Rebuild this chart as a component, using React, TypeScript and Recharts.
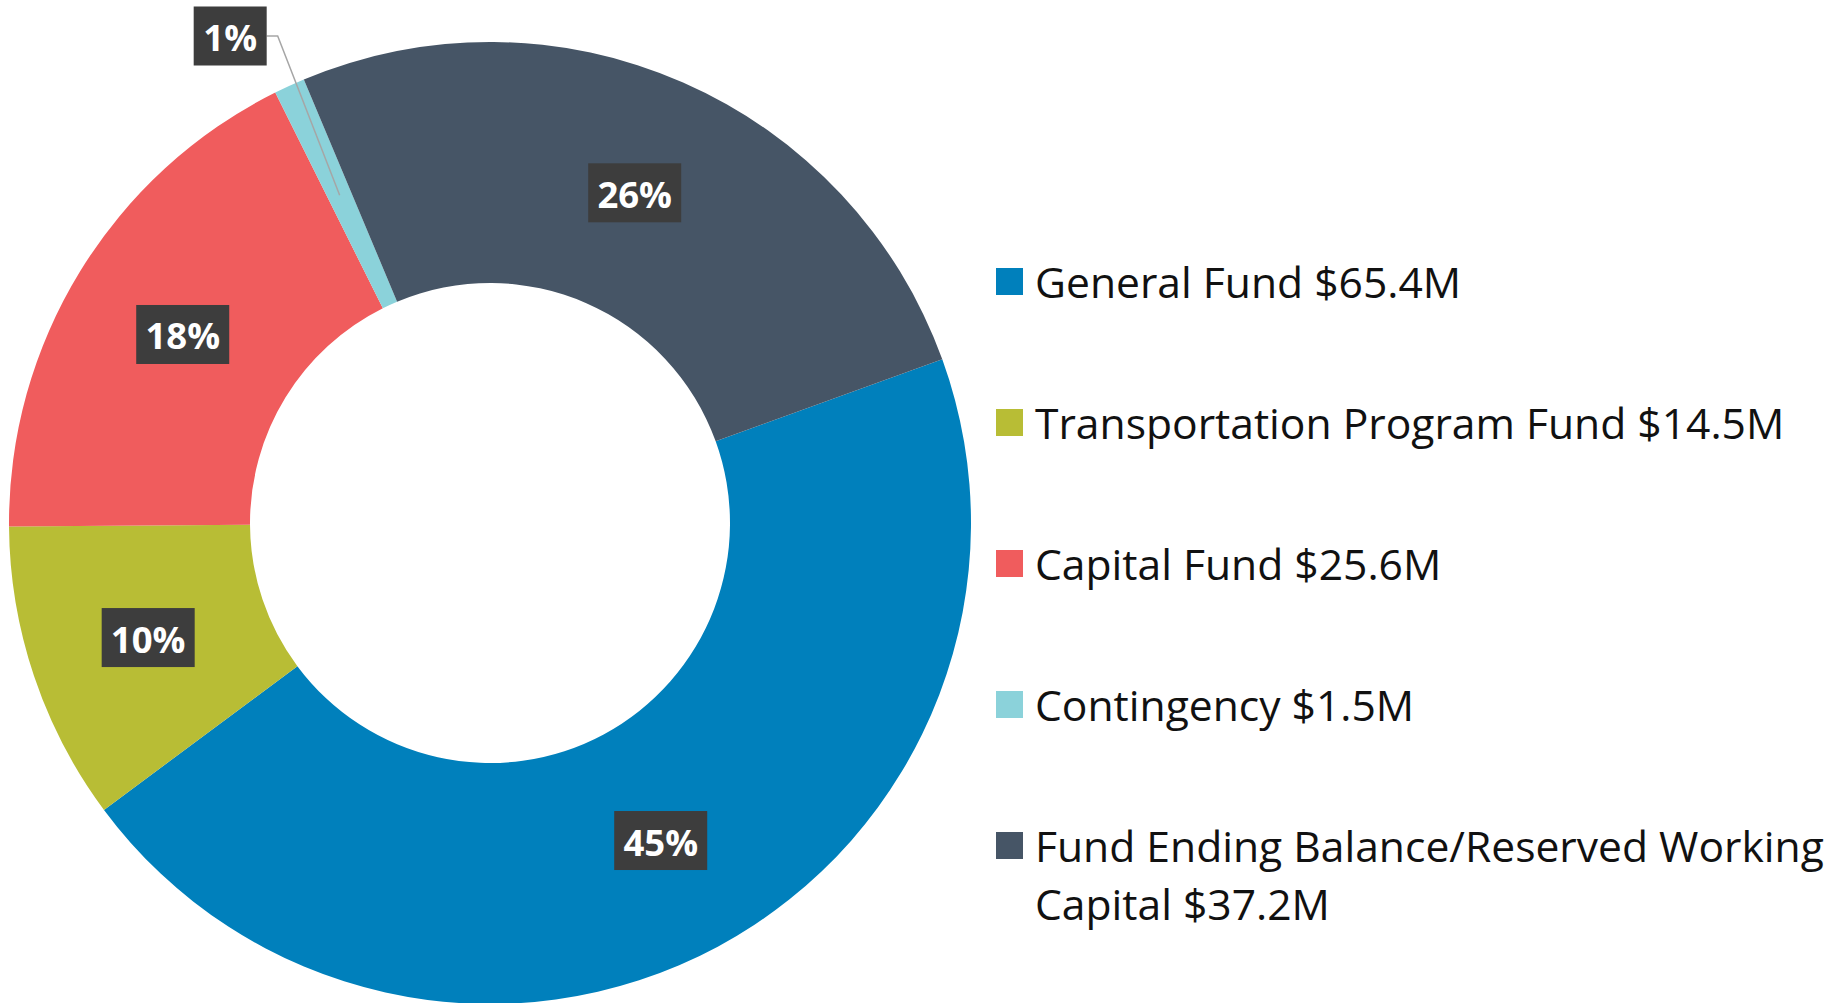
import { PieChart, Pie, Cell, Legend } from "recharts";

const funds = ["General Fund", "Transportation Program Fund", "Capital Fund", "Contingency", "Fund Ending Balance/Reserved Working Capital"];
const amounts = [65.4, 14.5, 25.6, 1.5, 37.2];
const colors = ["#0080bc", "#b8bd35", "#f05c5d", "#8bd2da", "#465566"];

const data = funds.map((name, i) => ({ name, value: amounts[i] }));

const RAD = Math.PI / 180;
const FONT = "'Open Sans', sans-serif";

const renderLabel = (props: any) => {
  const { cx, cy, midAngle, innerRadius, outerRadius, percent, index } = props;
  const text = `${Math.round(percent * 100)}%`;
  const w = (text.length - 1) * 20 + 31 + 22;
  const h = 59;
  const r = (innerRadius + outerRadius) / 2;
  const mx = cx + r * Math.cos(-midAngle * RAD);
  const my = cy + r * Math.sin(-midAngle * RAD);
  let bx = mx;
  let by = my;
  let line = null;
  if (percent < 0.03) {
    // small slice: label pulled outside with an elbow leader line
    const elbowX = mx - 62;
    const elbowY = cy - outerRadius - 6;
    bx = elbowX - 11 - w / 2;
    by = elbowY;
    line = (
      <polyline
        points={`${bx + w / 2},${elbowY} ${elbowX},${elbowY} ${mx},${my}`}
        fill="none"
        stroke="#a6a6a6"
        strokeWidth={1.5}
      />
    );
  }
  return (
    <g key={`lbl-${index}`}>
      {line}
      <rect x={bx - w / 2} y={by - h / 2} width={w} height={h} fill="#3d3d3d" />
      <text
        x={bx}
        y={by + 1}
        fill="#fff"
        textAnchor="middle"
        dominantBaseline="central"
        fontFamily={FONT}
        fontWeight={700}
        fontSize={36.5}
      >
        {text}
      </text>
    </g>
  );
};

const renderLegend = () => (
  <div style={{ fontFamily: FONT, fontSize: 42.6, color: "#111", lineHeight: "58px" }}>
    {data.map((d, i) => (
      <div key={d.name} style={{ display: "flex", alignItems: "flex-start", marginBottom: 83 }}>
        <span style={{ width: 27, height: 27, background: colors[i], marginTop: 16, marginRight: 12, flexShrink: 0 }} />
        <span style={{ width: 810 }}>{`${d.name} $${amounts[i]}M`}</span>
      </div>
    ))}
  </div>
);

export default function App() {
  return (
    <div style={{ position: "absolute", left: 0, top: 0, width: 1848, height: 1003, background: "#fff", overflow: "hidden" }}>
      <PieChart width={1848} height={1003}>
        <Pie
          data={data}
          dataKey="value"
          nameKey="name"
          cx={485}
          cy={518}
          innerRadius={240}
          outerRadius={481}
          startAngle={19.9}
          endAngle={-340.1}
          stroke="none"
          label={renderLabel}
          labelLine={false}
          isAnimationActive={false}
        >
          {data.map((d, i) => (
            <Cell key={d.name} fill={colors[i]} />
          ))}
        </Pie>
        <Legend
          layout="vertical"
          content={renderLegend}
          wrapperStyle={{ position: "absolute", left: 996, top: 252, width: 852 }}
        />
      </PieChart>
    </div>
  );
}
